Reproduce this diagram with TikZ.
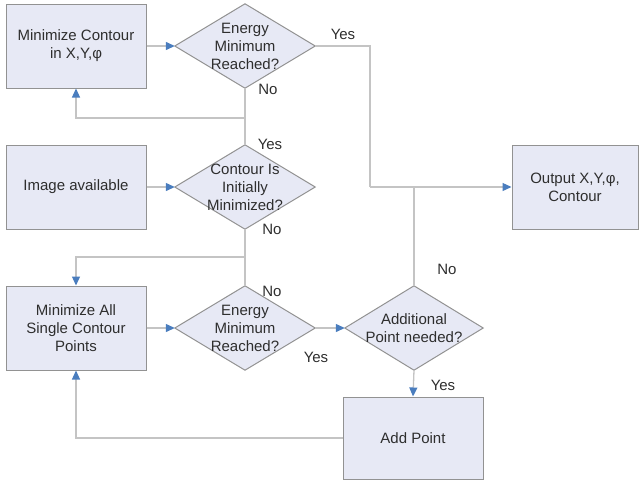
\documentclass[tikz,border=0pt]{standalone}
\usepackage{fontspec}
\setmainfont{Liberation Sans}
\usetikzlibrary{arrows.meta}
\definecolor{boxfill}{HTML}{E7E9F5}
\definecolor{boxline}{HTML}{929292}
\definecolor{conn}{HTML}{C4C4C4}
\definecolor{tipblue}{HTML}{4A7DBE}
\definecolor{txt}{HTML}{2E2E2E}
\tikzset{
  procbox/.style={draw=boxline, fill=boxfill, line width=1pt, text=txt, align=center,
    font=\fontsize{15}{18}\selectfont},
  decarea/.style={inner sep=0pt, text=txt, align=center, font=\fontsize{15}{18}\selectfont},
  decshape/.style={draw=boxline, fill=boxfill, line width=1pt},
  connector/.style={draw=conn, line width=1.3pt},
  flow/.style={connector, -{Triangle[length=9pt,width=8pt,fill=tipblue,color=tipblue]}},
  lbl/.style={text=txt, font=\fontsize{15}{18}\selectfont, inner sep=0pt}
}
\begin{document}
\begin{tikzpicture}[x=1pt,y=-1pt]
\useasboundingbox (0,0) rectangle (643,483);

% process boxes
\node[procbox, minimum width=140pt, minimum height=84pt] (b1) at (76,46) {Minimize Contour\\in X,Y,φ};
\node[procbox, minimum width=140pt, minimum height=84pt] (b2) at (76,187) {Image available};
\node[procbox, minimum width=140pt, minimum height=84pt] (b3) at (76,328) {Minimize All\\Single Contour\\Points};
\node[procbox, minimum width=140pt, minimum height=82pt] (b4) at (413,438) {Add Point};
\node[procbox, minimum width=126pt, minimum height=84pt] (b5) at (575,187) {Output X,Y,φ,\\Contour};

% decision areas (diamond outline drawn from their anchors)
\node[decarea, minimum width=140pt, minimum height=84pt] (d1) at (245,46) {};
\node[decarea, minimum width=140pt, minimum height=84pt] (d2) at (245,187) {};
\node[decarea, minimum width=140pt, minimum height=84pt] (d3) at (245,328) {};
\node[decarea, minimum width=138pt, minimum height=84pt] (d4) at (414,328) {};
\foreach \d in {d1,d2,d3,d4}{
  \path[decshape] (\d.west) -- (\d.north) -- (\d.east) -- (\d.south) -- cycle;
}
\node[decarea] at (d1) {Energy\\Minimum\\Reached?};
\node[decarea] at (d2) {Contour Is\\Initially\\Minimized?};
\node[decarea] at (d3) {Energy\\Minimum\\Reached?};
\node[decarea] at (d4) {Additional\\Point needed?};

% junction coordinates
\coordinate (j1) at (245,118);
\coordinate (j2) at (245,257);
\coordinate (j3) at (370,187);
\coordinate (j4) at (414,187);

% connectors
\draw[flow] (b1.east) -- (d1.west);
\draw[connector] (d1.south) -- (j1);
\draw[flow] (d2.north) -- (j1) -| (b1.south);
\draw[flow] (b2.east) -- (d2.west);
\draw[connector] (d2.south) -- (j2);
\draw[flow] (d3.north) -- (j2) -| (b3.north);
\draw[flow] (b3.east) -- (d3.west);
\draw[flow] (d3.east) -- (d4.west);
\draw[flow] (d4.south) -- (b4.north);
\draw[flow] (b4.west) -| (b3.south);
\draw[connector] (d1.east) -| (j3);
\draw[flow] (j3) -- (b5.west);
\draw[connector] (d4.north) -- (j4);

% labels
\node[lbl] (l1) at (343,34) {Yes};
\node[lbl] (l2) at (268,89) {No};
\node[lbl] (l3) at (270,144) {Yes};
\node[lbl] (l4) at (272,229) {No};
\node[lbl] (l5) at (272,291) {No};
\node[lbl] (l6) at (316,357) {Yes};
\node[lbl] (l7) at (447,269) {No};
\node[lbl] (l8) at (443,385) {Yes};
\end{tikzpicture}
\end{document}
